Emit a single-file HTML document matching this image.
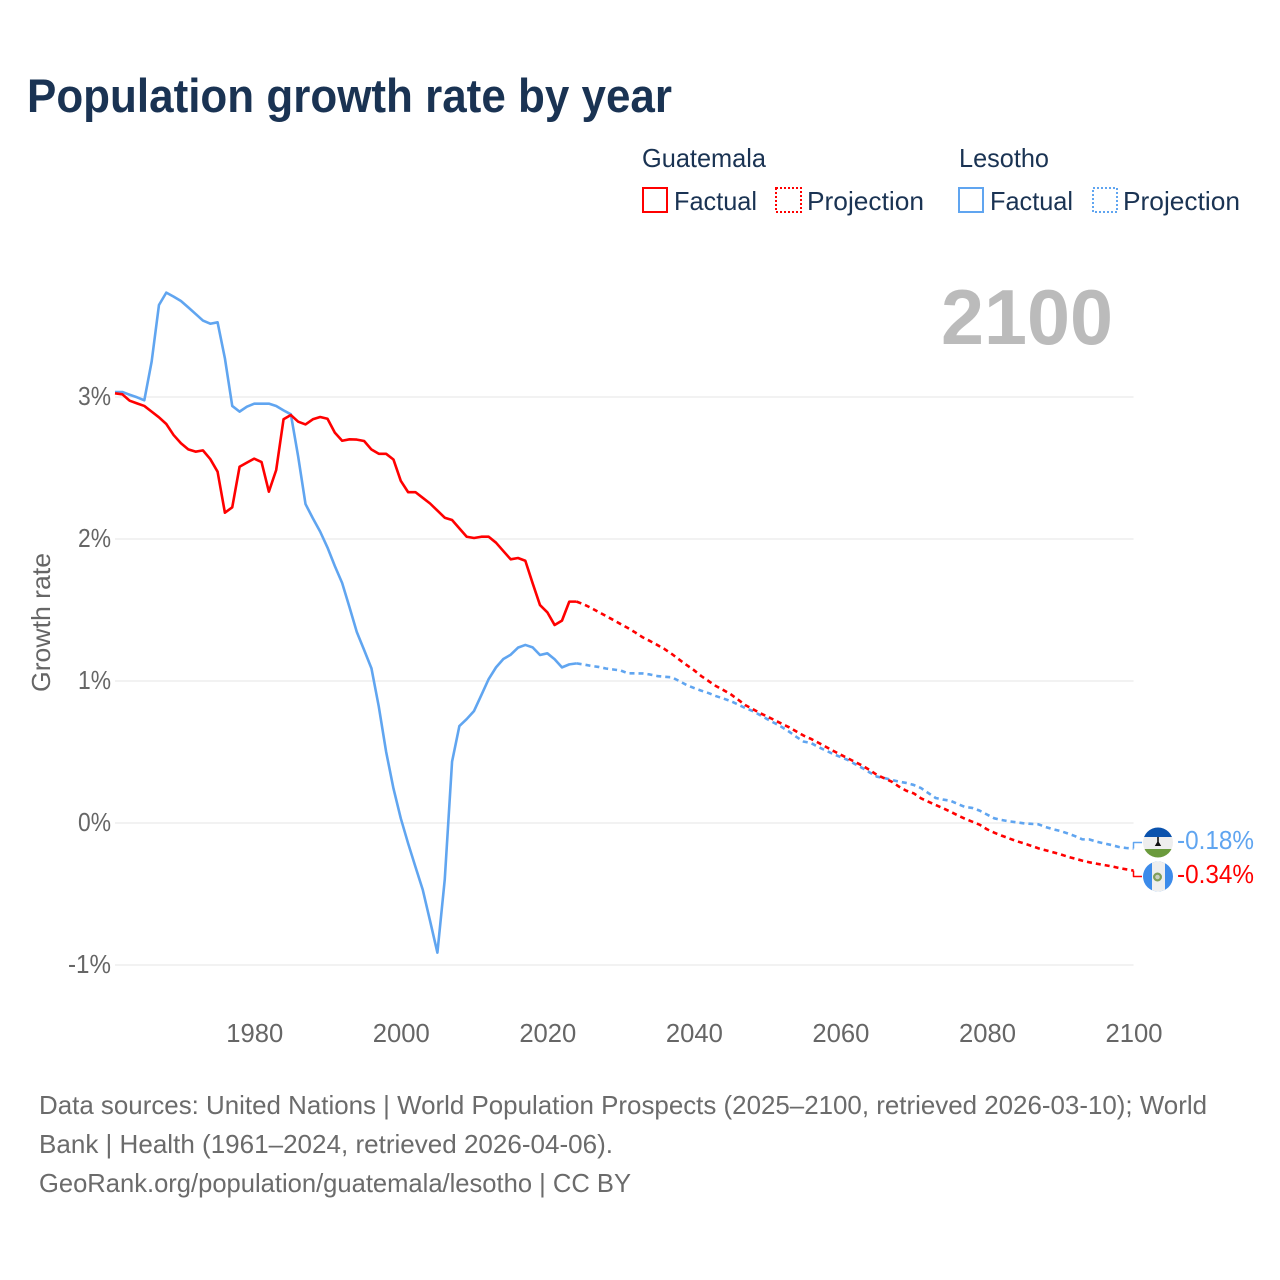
<!DOCTYPE html>
<html lang="en">
<head>
<meta charset="utf-8">
<title>Population growth rate by year</title>
<style>
html,body{margin:0;padding:0;background:#fff;width:1280px;height:1280px;overflow:hidden}
svg{display:block;font-family:"Liberation Sans",sans-serif}
</style>
</head>
<body>
<svg id="chart" width="1280" height="1280" viewBox="0 0 1280 1280" xmlns="http://www.w3.org/2000/svg">
  <defs>
    <clipPath id="flag-clip-top"><circle cx="1158" cy="842.5" r="15"/></clipPath>
    <clipPath id="flag-clip-bottom"><circle cx="1158" cy="876.5" r="15"/></clipPath>
  </defs>
  <rect width="1280" height="1280" fill="#fff"/>
  <text x="27" y="112" font-size="47" font-weight="700" fill="#1a3353" textLength="645" lengthAdjust="spacingAndGlyphs">Population growth rate by year</text>

  <g font-size="26" fill="#1a3353">
    <text x="642" y="167" textLength="124" lengthAdjust="spacingAndGlyphs">Guatemala</text>
    <text x="959" y="167" textLength="90" lengthAdjust="spacingAndGlyphs">Lesotho</text>
    <rect x="643" y="188" width="24" height="24" fill="none" stroke="#ff0000" stroke-width="2"/>
    <text x="674" y="210" textLength="83" lengthAdjust="spacingAndGlyphs">Factual</text>
    <rect x="776" y="188" width="25" height="24" fill="none" stroke="#ff0000" stroke-width="2" stroke-dasharray="2 2"/>
    <text x="807" y="210" textLength="117" lengthAdjust="spacingAndGlyphs">Projection</text>
    <rect x="959" y="188" width="24" height="24" fill="none" stroke="#60a5f0" stroke-width="2"/>
    <text x="990" y="210" textLength="83" lengthAdjust="spacingAndGlyphs">Factual</text>
    <rect x="1093" y="188" width="24" height="24" fill="none" stroke="#60a5f0" stroke-width="2" stroke-dasharray="2 2"/>
    <text x="1123" y="210" textLength="117" lengthAdjust="spacingAndGlyphs">Projection</text>
  </g>

  <text x="941" y="344" font-size="78" font-weight="700" fill="#bbbbbb" textLength="172" lengthAdjust="spacingAndGlyphs">2100</text>

  <g id="grid"></g>
  <g id="yticks" font-size="26" fill="#666666"></g>
  <g id="xticks" font-size="26" fill="#666666"></g>
  <text transform="translate(50,692) rotate(-90)" font-size="26" fill="#666666" textLength="139" lengthAdjust="spacingAndGlyphs">Growth rate</text>
  <g id="series" fill="none" stroke-linejoin="round"></g>

  <g clip-path="url(#flag-clip-top)">
    <rect x="1143" y="827" width="30" height="10" fill="#0a52ad"/>
    <rect x="1143" y="837" width="30" height="12" fill="#eeeeee"/>
    <rect x="1143" y="849" width="30" height="10" fill="#6a9a3c"/>
    <path d="M1157.2 837h1.6v5l2.4 4h-6.4l2.4-4z" fill="#111"/>
  </g>
  <g clip-path="url(#flag-clip-bottom)">
    <rect x="1143" y="861" width="30" height="31" fill="#3c8bea"/>
    <rect x="1152" y="861" width="13" height="31" fill="#eeeeee"/>
    <circle cx="1157.5" cy="877" r="3.4" fill="#c9cfc0" stroke="#7f9e5a" stroke-width="2.2"/>
  </g>
  <text x="1177" y="849" font-size="26" fill="#60a5f0" textLength="77" lengthAdjust="spacingAndGlyphs">-0.18%</text>
  <text x="1177" y="883" font-size="26" fill="#ff0000" textLength="77" lengthAdjust="spacingAndGlyphs">-0.34%</text>

  <g font-size="26" fill="#6b6b6b">
    <text x="39" y="1114" textLength="1168" lengthAdjust="spacingAndGlyphs">Data sources: United Nations | World Population Prospects (2025–2100, retrieved 2026-03-10); World</text>
    <text x="39" y="1153" textLength="574" lengthAdjust="spacingAndGlyphs">Bank | Health (1961–2024, retrieved 2026-04-06).</text>
    <text x="39" y="1192" textLength="592" lengthAdjust="spacingAndGlyphs">GeoRank.org/population/guatemala/lesotho | CC BY</text>
  </g>
</svg>
<script>
const firstYear = 1961;
const lastYear = 2100;
const yTicks = [3, 2, 1, 0, -1];
const yTickLabels = ["3%", "2%", "1%", "0%", "-1%"];
const xTicks = [1980, 2000, 2020, 2040, 2060, 2080, 2100];
const xTickLabels = ["1980", "2000", "2020", "2040", "2060", "2080", "2100"];

// Factual: 1961–2024
const guatemalaFactual = [3.026,3.019,2.974,2.955,2.937,2.897,2.857,2.810,2.732,2.674,2.631,2.615,2.624,2.563,2.474,2.185,2.223,2.509,2.538,2.566,2.542,2.333,2.486,2.843,2.873,2.826,2.807,2.843,2.859,2.847,2.749,2.692,2.702,2.70,2.69,2.63,2.60,2.60,2.56,2.41,2.33,2.33,2.29,2.25,2.20,2.15,2.134,2.075,2.016,2.007,2.016,2.016,1.974,1.915,1.857,1.866,1.847,1.688,1.535,1.484,1.394,1.425,1.559,1.559];
const lesothoFactual = [3.035,3.035,3.016,2.998,2.977,3.249,3.648,3.735,3.707,3.676,3.631,3.585,3.538,3.516,3.526,3.272,2.937,2.897,2.932,2.953,2.953,2.953,2.937,2.906,2.878,2.58,2.246,2.146,2.052,1.94,1.81,1.69,1.52,1.345,1.218,1.089,0.82,0.502,0.244,0.033,-0.143,-0.308,-0.47,-0.69,-0.913,-0.40,0.432,0.683,0.732,0.789,0.901,1.014,1.096,1.155,1.185,1.235,1.254,1.237,1.183,1.195,1.153,1.096,1.117,1.124];

// Projection: 2025–2100
const guatemalaProjection = [1.539,1.514,1.486,1.458,1.43,1.401,1.373,1.342,1.308,1.282,1.254,1.225,1.19,1.151,1.113,1.077,1.035,1.0,0.965,0.937,0.908,0.87,0.831,0.803,0.775,0.75,0.725,0.699,0.674,0.644,0.615,0.592,0.565,0.537,0.509,0.482,0.456,0.43,0.404,0.373,0.338,0.315,0.291,0.256,0.227,0.209,0.174,0.15,0.127,0.104,0.08,0.054,0.03,0.009,-0.012,-0.044,-0.068,-0.089,-0.108,-0.127,-0.143,-0.16,-0.178,-0.192,-0.206,-0.22,-0.237,-0.251,-0.265,-0.277,-0.287,-0.296,-0.305,-0.317,-0.326,-0.335];
const lesothoProjection = [1.116,1.106,1.099,1.088,1.081,1.074,1.054,1.054,1.053,1.046,1.035,1.03,1.026,1.0,0.972,0.951,0.932,0.915,0.894,0.877,0.859,0.835,0.81,0.789,0.761,0.732,0.704,0.676,0.643,0.606,0.573,0.563,0.535,0.511,0.486,0.465,0.444,0.415,0.387,0.356,0.326,0.317,0.303,0.291,0.282,0.268,0.246,0.211,0.176,0.165,0.157,0.134,0.113,0.106,0.087,0.06,0.033,0.021,0.012,0.005,-0.002,-0.006,-0.009,-0.028,-0.044,-0.056,-0.073,-0.092,-0.115,-0.116,-0.132,-0.144,-0.155,-0.169,-0.176,-0.18];

const RED = "#ff0000";
const BLUE = "#60a5f0";
const NS = "http://www.w3.org/2000/svg";

function xScale(year) { return 115 + (year - firstYear) * (1133.5 - 115) / (lastYear - firstYear); }
function yScale(v) { return 823 - v * 142; }

function make(parent, tag, attrs, text) {
  const el = document.createElementNS(NS, tag);
  for (const k in attrs) el.setAttribute(k, attrs[k]);
  if (text !== undefined) el.textContent = text;
  parent.appendChild(el);
  return el;
}

const gridGroup = document.getElementById("grid");
const yGroup = document.getElementById("yticks");
yTicks.forEach(function (t, i) {
  const line = make(gridGroup, "line", { x1: 115, x2: 1133.5, y1: yScale(t), y2: yScale(t), stroke: "#eeeeee", "stroke-width": 1.5 });
  
  
  const label = yTickLabels[i];
  const w = label.length === 3 ? 43 : 33;
  const txt = make(yGroup, "text", { x: 111 - w, y: yScale(t) + 8, textLength: w, lengthAdjust: "spacingAndGlyphs" }, label);
  
  
});

const xGroup = document.getElementById("xticks");
xTicks.forEach(function (t, i) {
  const txt = make(xGroup, "text", { x: xScale(t) - 28, y: 1042, textLength: 57, lengthAdjust: "spacingAndGlyphs" }, xTickLabels[i]);
  
  
});

function pathFrom(values, startYear) {
  return values.map(function (v, i) {
    return (i ? "L" : "M") + xScale(startYear + i).toFixed(2) + " " + yScale(v).toFixed(2);
  }).join("");
}

const seriesGroup = document.getElementById("series");
const factualEnd = firstYear + guatemalaFactual.length - 1;

const lesothoLine = make(seriesGroup, "path", { d: pathFrom(lesothoFactual, firstYear), stroke: BLUE, "stroke-width": 2.6 });



const guatemalaLine = make(seriesGroup, "path", { d: pathFrom(guatemalaFactual, firstYear), stroke: RED, "stroke-width": 2.6 });



const lesothoProj = make(seriesGroup, "path", {
  d: pathFrom([lesothoFactual[lesothoFactual.length - 1]].concat(lesothoProjection), factualEnd),
  stroke: BLUE, "stroke-width": 2.6, "stroke-dasharray": "5 4"
});



const guatemalaProj = make(seriesGroup, "path", {
  d: pathFrom([guatemalaFactual[guatemalaFactual.length - 1]].concat(guatemalaProjection), factualEnd),
  stroke: RED, "stroke-width": 2.6, "stroke-dasharray": "5 4"
});



const lastX = xScale(lastYear);
const blueEnd = yScale(lesothoProjection[lesothoProjection.length - 1]);
const redEnd = yScale(guatemalaProjection[guatemalaProjection.length - 1]);

const blueConnector = make(seriesGroup, "path", { d: "M" + lastX + " " + blueEnd + "V842.5H1142", stroke: BLUE, "stroke-width": 1.5 });



const redConnector = make(seriesGroup, "path", { d: "M" + lastX + " " + redEnd + "V876.5H1142", stroke: RED, "stroke-width": 1.5 });


</script>
</body>
</html>
